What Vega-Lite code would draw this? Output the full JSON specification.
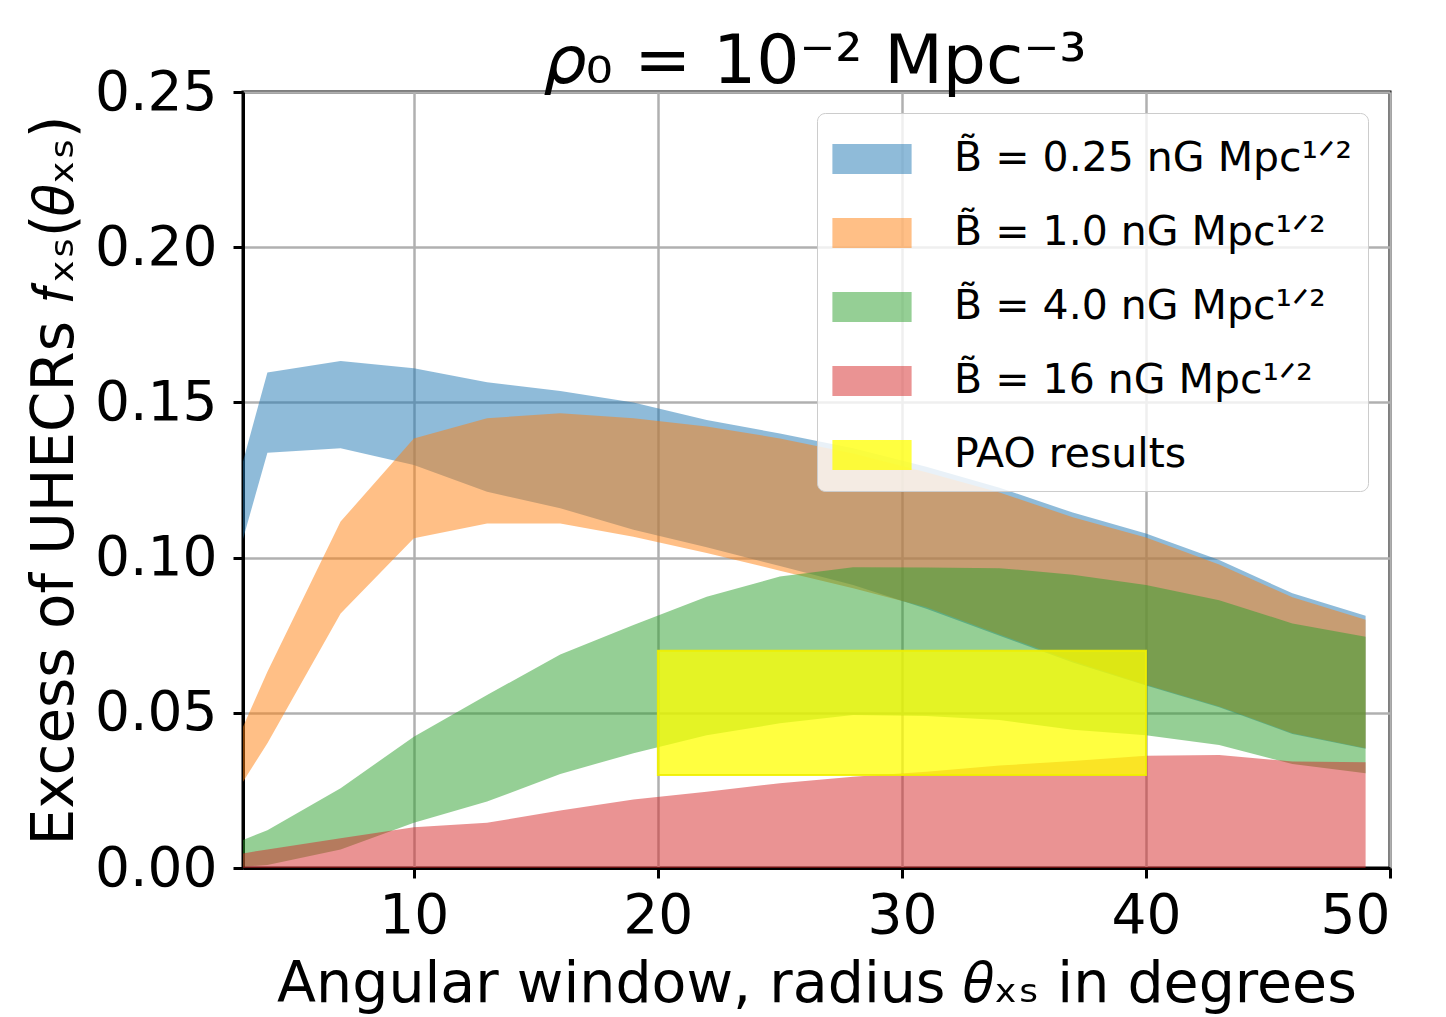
{
  "$schema": "https://vega.github.io/schema/vega-lite/v6.json",
  "width": 1147,
  "height": 776,
  "autosize": {"type": "none"},
  "padding": {"left": 243, "top": 92, "right": 56, "bottom": 149},
  "background": "white",
  "title": {"text": "𝜌₀ = 10⁻² Mpc⁻³", "fontSize": 68, "fontWeight": "normal", "color": "black", "font": "DejaVu Sans", "offset": -32},
  "datasets": {
    "bands": [
      {"k":1,"s":"B̃ = 0.25 nG Mpc¹ᐟ²","x":3,"lo":0.106,"hi":0.131},
      {"k":1,"s":"B̃ = 0.25 nG Mpc¹ᐟ²","x":4,"lo":0.1338,"hi":0.1596},
      {"k":1,"s":"B̃ = 0.25 nG Mpc¹ᐟ²","x":7,"lo":0.1352,"hi":0.1633},
      {"k":1,"s":"B̃ = 0.25 nG Mpc¹ᐟ²","x":10,"lo":0.1298,"hi":0.161},
      {"k":1,"s":"B̃ = 0.25 nG Mpc¹ᐟ²","x":13,"lo":0.1212,"hi":0.1565},
      {"k":1,"s":"B̃ = 0.25 nG Mpc¹ᐟ²","x":16,"lo":0.1159,"hi":0.1537},
      {"k":1,"s":"B̃ = 0.25 nG Mpc¹ᐟ²","x":19,"lo":0.109,"hi":0.150},
      {"k":1,"s":"B̃ = 0.25 nG Mpc¹ᐟ²","x":22,"lo":0.1033,"hi":0.1443},
      {"k":1,"s":"B̃ = 0.25 nG Mpc¹ᐟ²","x":25,"lo":0.0973,"hi":0.140},
      {"k":1,"s":"B̃ = 0.25 nG Mpc¹ᐟ²","x":28,"lo":0.0912,"hi":0.1352},
      {"k":1,"s":"B̃ = 0.25 nG Mpc¹ᐟ²","x":31,"lo":0.0835,"hi":0.1293},
      {"k":1,"s":"B̃ = 0.25 nG Mpc¹ᐟ²","x":34,"lo":0.0748,"hi":0.1225},
      {"k":1,"s":"B̃ = 0.25 nG Mpc¹ᐟ²","x":37,"lo":0.0662,"hi":0.1145},
      {"k":1,"s":"B̃ = 0.25 nG Mpc¹ᐟ²","x":40,"lo":0.0588,"hi":0.1078},
      {"k":1,"s":"B̃ = 0.25 nG Mpc¹ᐟ²","x":43,"lo":0.0518,"hi":0.0992},
      {"k":1,"s":"B̃ = 0.25 nG Mpc¹ᐟ²","x":46,"lo":0.0432,"hi":0.0885},
      {"k":1,"s":"B̃ = 0.25 nG Mpc¹ᐟ²","x":49,"lo":0.0384,"hi":0.0813},
      {"k":2,"s":"B̃ = 1.0 nG Mpc¹ᐟ²","x":3,"lo":0.0278,"hi":0.0455},
      {"k":2,"s":"B̃ = 1.0 nG Mpc¹ᐟ²","x":4,"lo":0.0402,"hi":0.0632},
      {"k":2,"s":"B̃ = 1.0 nG Mpc¹ᐟ²","x":7,"lo":0.082,"hi":0.1116},
      {"k":2,"s":"B̃ = 1.0 nG Mpc¹ᐟ²","x":10,"lo":0.1062,"hi":0.1384},
      {"k":2,"s":"B̃ = 1.0 nG Mpc¹ᐟ²","x":13,"lo":0.111,"hi":0.1449},
      {"k":2,"s":"B̃ = 1.0 nG Mpc¹ᐟ²","x":16,"lo":0.111,"hi":0.1465},
      {"k":2,"s":"B̃ = 1.0 nG Mpc¹ᐟ²","x":19,"lo":0.1067,"hi":0.1449},
      {"k":2,"s":"B̃ = 1.0 nG Mpc¹ᐟ²","x":22,"lo":0.1015,"hi":0.1422},
      {"k":2,"s":"B̃ = 1.0 nG Mpc¹ᐟ²","x":25,"lo":0.0958,"hi":0.1384},
      {"k":2,"s":"B̃ = 1.0 nG Mpc¹ᐟ²","x":28,"lo":0.0901,"hi":0.1335},
      {"k":2,"s":"B̃ = 1.0 nG Mpc¹ᐟ²","x":31,"lo":0.084,"hi":0.1275},
      {"k":2,"s":"B̃ = 1.0 nG Mpc¹ᐟ²","x":34,"lo":0.0752,"hi":0.121},
      {"k":2,"s":"B̃ = 1.0 nG Mpc¹ᐟ²","x":37,"lo":0.0667,"hi":0.113},
      {"k":2,"s":"B̃ = 1.0 nG Mpc¹ᐟ²","x":40,"lo":0.059,"hi":0.1065},
      {"k":2,"s":"B̃ = 1.0 nG Mpc¹ᐟ²","x":43,"lo":0.052,"hi":0.0978},
      {"k":2,"s":"B̃ = 1.0 nG Mpc¹ᐟ²","x":46,"lo":0.0434,"hi":0.0872},
      {"k":2,"s":"B̃ = 1.0 nG Mpc¹ᐟ²","x":49,"lo":0.0386,"hi":0.080},
      {"k":3,"s":"B̃ = 4.0 nG Mpc¹ᐟ²","x":3,"lo":0.0004,"hi":0.009},
      {"k":3,"s":"B̃ = 4.0 nG Mpc¹ᐟ²","x":4,"lo":0.001,"hi":0.0122},
      {"k":3,"s":"B̃ = 4.0 nG Mpc¹ᐟ²","x":7,"lo":0.006,"hi":0.0257},
      {"k":3,"s":"B̃ = 4.0 nG Mpc¹ᐟ²","x":10,"lo":0.0146,"hi":0.0423},
      {"k":3,"s":"B̃ = 4.0 nG Mpc¹ᐟ²","x":13,"lo":0.0214,"hi":0.0557},
      {"k":3,"s":"B̃ = 4.0 nG Mpc¹ᐟ²","x":16,"lo":0.0303,"hi":0.0688},
      {"k":3,"s":"B̃ = 4.0 nG Mpc¹ᐟ²","x":19,"lo":0.037,"hi":0.0783},
      {"k":3,"s":"B̃ = 4.0 nG Mpc¹ᐟ²","x":22,"lo":0.0428,"hi":0.0874},
      {"k":3,"s":"B̃ = 4.0 nG Mpc¹ᐟ²","x":25,"lo":0.0466,"hi":0.0939},
      {"k":3,"s":"B̃ = 4.0 nG Mpc¹ᐟ²","x":28,"lo":0.0493,"hi":0.0969},
      {"k":3,"s":"B̃ = 4.0 nG Mpc¹ᐟ²","x":31,"lo":0.049,"hi":0.0968},
      {"k":3,"s":"B̃ = 4.0 nG Mpc¹ᐟ²","x":34,"lo":0.0477,"hi":0.0966},
      {"k":3,"s":"B̃ = 4.0 nG Mpc¹ᐟ²","x":37,"lo":0.0445,"hi":0.0945},
      {"k":3,"s":"B̃ = 4.0 nG Mpc¹ᐟ²","x":40,"lo":0.0428,"hi":0.0912},
      {"k":3,"s":"B̃ = 4.0 nG Mpc¹ᐟ²","x":43,"lo":0.0396,"hi":0.0863},
      {"k":3,"s":"B̃ = 4.0 nG Mpc¹ᐟ²","x":46,"lo":0.0335,"hi":0.0788},
      {"k":3,"s":"B̃ = 4.0 nG Mpc¹ᐟ²","x":49,"lo":0.0305,"hi":0.0745},
      {"k":4,"s":"B̃ = 16 nG Mpc¹ᐟ²","x":3,"lo":0,"hi":0.0047},
      {"k":4,"s":"B̃ = 16 nG Mpc¹ᐟ²","x":4,"lo":0,"hi":0.006},
      {"k":4,"s":"B̃ = 16 nG Mpc¹ᐟ²","x":7,"lo":0,"hi":0.0096},
      {"k":4,"s":"B̃ = 16 nG Mpc¹ᐟ²","x":10,"lo":0,"hi":0.0131},
      {"k":4,"s":"B̃ = 16 nG Mpc¹ᐟ²","x":13,"lo":0,"hi":0.0146},
      {"k":4,"s":"B̃ = 16 nG Mpc¹ᐟ²","x":16,"lo":0,"hi":0.0185},
      {"k":4,"s":"B̃ = 16 nG Mpc¹ᐟ²","x":19,"lo":0,"hi":0.0221},
      {"k":4,"s":"B̃ = 16 nG Mpc¹ᐟ²","x":22,"lo":0,"hi":0.0246},
      {"k":4,"s":"B̃ = 16 nG Mpc¹ᐟ²","x":25,"lo":0,"hi":0.0273},
      {"k":4,"s":"B̃ = 16 nG Mpc¹ᐟ²","x":28,"lo":0,"hi":0.0294},
      {"k":4,"s":"B̃ = 16 nG Mpc¹ᐟ²","x":31,"lo":0,"hi":0.031},
      {"k":4,"s":"B̃ = 16 nG Mpc¹ᐟ²","x":34,"lo":0,"hi":0.033},
      {"k":4,"s":"B̃ = 16 nG Mpc¹ᐟ²","x":37,"lo":0,"hi":0.0345},
      {"k":4,"s":"B̃ = 16 nG Mpc¹ᐟ²","x":40,"lo":0,"hi":0.0362},
      {"k":4,"s":"B̃ = 16 nG Mpc¹ᐟ²","x":43,"lo":0,"hi":0.0364},
      {"k":4,"s":"B̃ = 16 nG Mpc¹ᐟ²","x":46,"lo":0,"hi":0.0343},
      {"k":4,"s":"B̃ = 16 nG Mpc¹ᐟ²","x":49,"lo":0,"hi":0.0341}
    ],
    "pao": [
      {"s":"PAO results","x":20,"x2":40,"lo":0.03,"hi":0.07}
    ]
  },
  "encoding": {
    "x": {"field": "x", "type": "quantitative", "scale": {"domain": [3, 50], "nice": false, "zero": false},
          "axis": {"values": [10, 20, 30, 40, 50], "title": "Angular window, radius 𝜃ₓₛ in degrees"}},
    "y": {"field": "lo", "type": "quantitative", "scale": {"domain": [0, 0.25], "nice": false},
          "axis": {"values": [0, 0.05, 0.1, 0.15, 0.2, 0.25], "format": ".2f", "title": "Excess of UHECRs 𝑓ₓₛ(𝜃ₓₛ)"}},
    "y2": {"field": "hi"},
    "color": {"field": "s", "type": "nominal",
      "scale": {"domain": ["B̃ = 0.25 nG Mpc¹ᐟ²", "B̃ = 1.0 nG Mpc¹ᐟ²", "B̃ = 4.0 nG Mpc¹ᐟ²", "B̃ = 16 nG Mpc¹ᐟ²", "PAO results"],
                "range": ["rgba(31,119,180,0.5)", "rgba(255,127,14,0.5)", "rgba(44,160,44,0.5)", "rgba(214,39,40,0.5)", "rgba(255,255,0,0.75)"]},
      "legend": {"title": null, "orient": "none", "legendX": 574, "legendY": 21,
                 "symbolType": "M-1.32,-0.5H1.32V0.5H-1.32Z", "symbolSize": 3600, "symbolStrokeWidth": 0, "symbolOffset": 9,
                 "labelFontSize": 41, "labelColor": "black", "labelFont": "DejaVu Sans", "labelOffset": 52, "labelLimit": 700,
                 "rowPadding": 24, "padding": 16, "fillColor": "rgba(255,255,255,0.8)", "strokeColor": "#cccccc",
                 "cornerRadius": 8, "zindex": 3}
    }
  },
  "layer": [
    {"data": {"name": "bands"}, "transform": [{"filter": "datum.k == 1"}], "mark": {"type": "area", "opacity": 1}},
    {"data": {"name": "bands"}, "transform": [{"filter": "datum.k == 2"}], "mark": {"type": "area", "opacity": 1}},
    {"data": {"name": "bands"}, "transform": [{"filter": "datum.k == 3"}], "mark": {"type": "area", "opacity": 1}},
    {"data": {"name": "bands"}, "transform": [{"filter": "datum.k == 4"}], "mark": {"type": "area", "opacity": 1}},
    {"data": {"name": "pao"}, "mark": {"type": "rect", "opacity": 1, "stroke": "rgba(240,240,0,0.9)", "strokeWidth": 2},
     "encoding": {"x2": {"field": "x2"}}}
  ],
  "config": {
    "font": "DejaVu Sans",
    "view": {"stroke": "black", "strokeWidth": 3},
    "axis": {
      "zindex": 1,
      "domainColor": "black", "domainWidth": 3,
      "tickColor": "black", "tickWidth": 3, "tickSize": 10,
      "gridColor": "#b0b0b0", "gridWidth": 2.5,
      "labelFontSize": 55, "labelColor": "black", "labelFont": "DejaVu Sans",
      "titleColor": "black", "titleFontWeight": "normal", "titleFont": "DejaVu Sans"
    },
    "axisX": {"labelPadding": 11, "titlePadding": 13, "titleFontSize": 57},
    "axisY": {"labelPadding": 16, "titlePadding": 10, "titleFontSize": 58}
  }
}
